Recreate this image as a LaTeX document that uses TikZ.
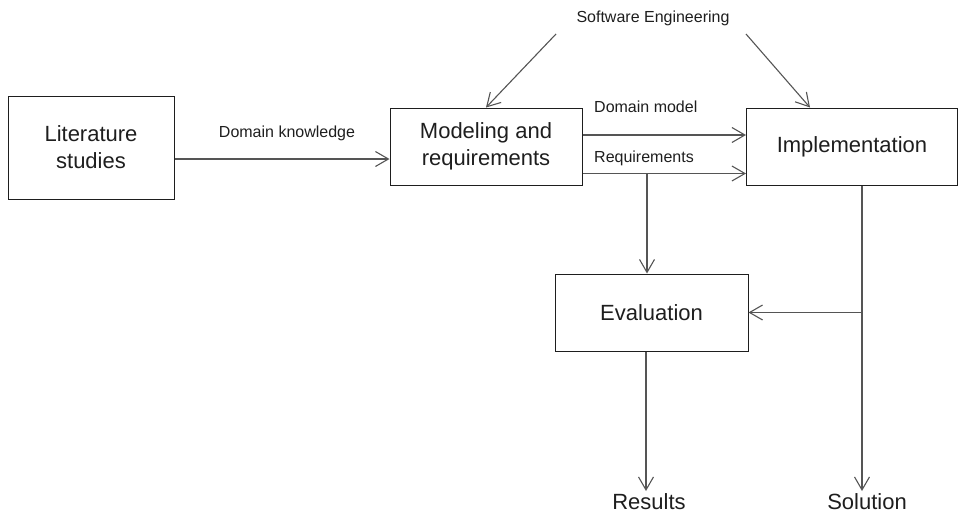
\documentclass[tikz,border=0pt]{standalone}
\usepackage{fontspec}
\setmainfont{Liberation Sans}
\usetikzlibrary{arrows.meta}
\definecolor{ink}{HTML}{1E1E1E}
\definecolor{wire}{HTML}{555555}

\begin{document}
\begin{tikzpicture}[x=1pt,y=-1pt,
  every node/.style={text=ink},
  box/.style={draw=ink,line width=1pt,align=center,font=\fontsize{22}{27}\selectfont},
  lbl/.style={font=\fontsize{16}{18}\selectfont,inner sep=0},
  arr/.style={draw=wire,line width=1.1pt,-{Straight Barb[length=13pt,width=15pt,line width=1.1pt]}}]
\useasboundingbox (0,0) rectangle (959,517);
\node[box,minimum width=166,minimum height=103] (lit) at (91,147.5){Literature\\studies};
\node[box,minimum width=192,minimum height=77] (mod) at (486,146.5){Modeling and\\requirements};
\node[box,minimum width=211,minimum height=77] (imp) at (852,146.5){Implementation};
\node[box,minimum width=193,minimum height=77] (eval) at (651.5,312.5){Evaluation};
\node[lbl] (se) at (653,18){Software Engineering};
\node[lbl] (dk) at (287,133){Domain knowledge};
\node[lbl,anchor=west] (dm) at (594,107){Domain model};
\node[lbl,anchor=west] (rq) at (594,158){Requirements};
\node[font=\fontsize{22}{25}\selectfont,anchor=north,inner sep=2] (res) at (649,491){Results};
\node[font=\fontsize{22}{25}\selectfont,anchor=north,inner sep=2] (sol) at (867,491){Solution};
\coordinate (se1) at (556,34);
\coordinate (se2) at (746,34);
\coordinate (evtop) at ([xshift=-4.5]eval.north);
\coordinate (imdrop) at ([xshift=10]imp.south);
\draw[arr] ([yshift=-11.5]lit.east) -- ([yshift=-11.5]lit.east -| mod.west);
\draw[arr] ([yshift=11.5]mod.east) -- ([yshift=11.5]mod.east -| imp.west);
\draw[arr] ([yshift=12]mod.south east) -- ([yshift=12]mod.south east -| imp.west);
\draw[arr] (se1) -- (mod.north);
\draw[arr] (se2) -- ([xshift=64]imp.north west);
\draw[arr] ([yshift=12]mod.south east -| evtop) -- (evtop);
\draw[arr] (imdrop) -- (imdrop |- sol.north);
\draw[arr] (imdrop |- eval.east) -- (eval.east);
\draw[arr] ([xshift=-5.5]eval.south) -- ([xshift=-5.5]eval.south |- res.north);
\end{tikzpicture}
\end{document}
